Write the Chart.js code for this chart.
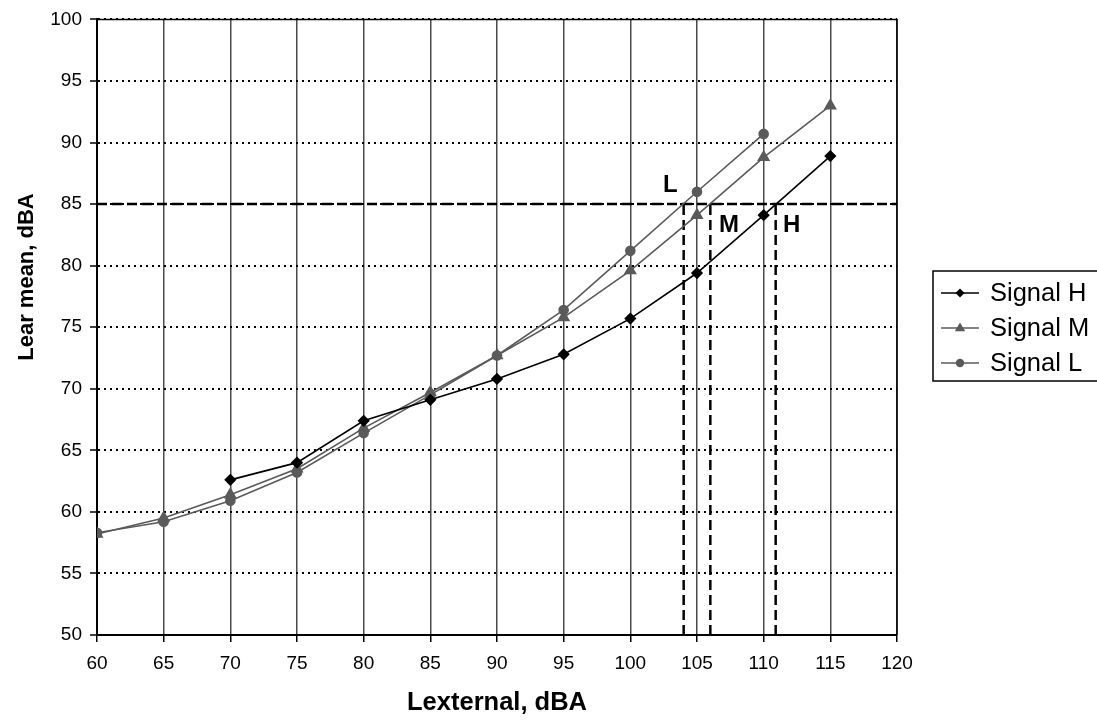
<!DOCTYPE html>
<html>
<head>
<meta charset="utf-8">
<script src="https://cdn.jsdelivr.net/npm/chart.js@4/dist/chart.umd.min.js"></script>
<style>
html,body{margin:0;padding:0;background:#fff;}
canvas{display:block;}
</style>
</head>
<body>
<canvas id="c" width="1097" height="721"></canvas>
<script>
// ---- Data ----
const xValues = [60, 65, 70, 75, 80, 85, 90, 95, 100, 105, 110, 115];
const signalH = [null, null, 62.6, 64.0, 67.4, 69.1, 70.8, 72.8, 75.7, 79.4, 84.1, 88.9];
const signalM = [58.2, 59.5, 61.4, 63.5, 66.8, 69.7, 72.7, 75.8, 79.6, 84.1, 88.8, 93.0];
const signalL = [58.3, 59.2, 60.9, 63.2, 66.4, 69.5, 72.7, 76.4, 81.2, 86.0, 90.7, null];
const seriesNames = ['Signal H', 'Signal M', 'Signal L'];
const criterionLevel = 85;
const crossingNames = ['L', 'M', 'H'];
const crossingX = [104.0, 106.0, 110.9];
const crossingLabelX = [103.0, 107.4, 112.1];
const crossingLabelY = [86.5, 83.3, 83.3];
const xTitle = 'Lexternal, dBA';
const yTitle = 'Lear mean, dBA';

const FONT = '"Liberation Sans", Arial, sans-serif';
const colH = '#000000', colM = '#5a5a5a', colL = '#5a5a5a';

function pts(arr){ return xValues.map((x,i)=>({x:x, y:arr[i]})); }

const datasets = [
  {label: seriesNames[0], data: pts(signalH), borderColor: colH, backgroundColor: colH,
   borderWidth: 1.6, pointStyle: 'rectRot', pointRadius: 5, pointHoverRadius: 5, spanGaps:false},
  {label: seriesNames[1], data: pts(signalM), borderColor: colM, backgroundColor: colM,
   borderWidth: 1.6, pointStyle: 'triangle', pointRadius: 6, pointHoverRadius: 6},
  {label: seriesNames[2], data: pts(signalL), borderColor: colL, backgroundColor: colL,
   borderWidth: 1.6, pointStyle: 'circle', pointRadius: 4.5, pointHoverRadius: 4.5},
  {label: 'criterion', data: [{x: xValues[0], y: criterionLevel}, {x: 120, y: criterionLevel}],
   borderColor: '#000', borderWidth: 2.5, borderDash: [10, 5], pointRadius: 0}
];
crossingX.forEach((cx, i) => {
  datasets.push({label: 'cross ' + crossingNames[i], data: [{x: cx, y: 50}, {x: cx, y: criterionLevel}],
    borderColor: '#000', borderWidth: 2.5, borderDash: [10, 5], pointRadius: 0});
});

const extras = {
  id: 'extras',
  beforeDatasetsDraw(chart) {
    const {ctx, chartArea: a} = chart;
    ctx.save();
    ctx.strokeStyle = '#000';
    ctx.lineWidth = 1.5;
    ctx.beginPath();
    ctx.moveTo(a.left, a.top); ctx.lineTo(a.right, a.top); ctx.lineTo(a.right, a.bottom);
    ctx.stroke();
    ctx.restore();
  },
  afterDraw(chart) {
    const {ctx} = chart;
    const xs = chart.scales.x, ys = chart.scales.y;
    ctx.save();
    ctx.fillStyle = '#000';
    ctx.font = 'bold 24px ' + FONT;
    ctx.textAlign = 'center'; ctx.textBaseline = 'middle';
    crossingNames.forEach((n, i) => {
      ctx.fillText(n, xs.getPixelForValue(crossingLabelX[i]), ys.getPixelForValue(crossingLabelY[i]));
    });
    ctx.save();
    ctx.translate(27, 277);
    ctx.rotate(-Math.PI / 2);
    ctx.font = 'bold 22px ' + FONT;
    ctx.fillText(yTitle, 0, 0);
    ctx.restore();
    // legend
    const bx = 933, by = 271, bw = 170, bh = 110;
    ctx.strokeStyle = '#000'; ctx.lineWidth = 1.5;
    ctx.strokeRect(bx, by, bw, bh);
    const rows = [293, 328, 363];
    ctx.font = '25.5px ' + FONT;
    ctx.textAlign = 'left'; ctx.textBaseline = 'middle';
    for (let i = 0; i < 3; i++) {
      const ds = chart.data.datasets[i];
      const y = rows[i];
      ctx.strokeStyle = ds.borderColor; ctx.fillStyle = ds.backgroundColor; ctx.lineWidth = 1.5;
      ctx.beginPath(); ctx.moveTo(941, y); ctx.lineTo(979, y); ctx.stroke();
      const cx = 960;
      ctx.beginPath();
      if (ds.pointStyle === 'rectRot') {
        const r = 4.5; ctx.moveTo(cx, y - r); ctx.lineTo(cx + r, y); ctx.lineTo(cx, y + r); ctx.lineTo(cx - r, y); ctx.closePath();
      } else if (ds.pointStyle === 'triangle') {
        const r = 5.5; ctx.moveTo(cx, y - r); ctx.lineTo(cx + r * 0.95, y + r * 0.6); ctx.lineTo(cx - r * 0.95, y + r * 0.6); ctx.closePath();
      } else {
        ctx.arc(cx, y, 4.2, 0, Math.PI * 2);
      }
      ctx.fill();
      ctx.fillStyle = '#000';
      ctx.fillText(ds.label, 990, y + 1);
    }
    ctx.restore();
  }
};

new Chart(document.getElementById('c'), {
  type: 'line',
  data: {datasets},
  plugins: [extras],
  options: {
    responsive: false,
    animation: false,
    events: [],
    layout: {padding: {left: 0, top: 18, right: 200, bottom: 0}},
    plugins: {legend: {display: false}, tooltip: {enabled: false}},
    scales: {
      x: {
        type: 'linear', min: 60, max: 120,
        afterFit(s) { s.height = 86; },
        ticks: {stepSize: 5, color: '#000', font: {family: FONT, size: 19}, padding: 10, maxRotation: 0},
        grid: {color: '#4a4a4a', lineWidth: 1.5, tickLength: 7, tickColor: '#000', tickWidth: 1.5},
        border: {color: '#000', width: 2},
        title: {display: true, text: xTitle, color: '#000', font: {family: FONT, size: 25.5, weight: 'bold'}, padding: {top: 0, bottom: 3}}
      },
      y: {
        min: 50, max: 100,
        afterFit(s) { s.width = 97; },
        ticks: {stepSize: 5, color: '#000', font: {family: FONT, size: 19}, padding: 8},
        grid: {color: '#000', lineWidth: 2, tickLength: 7, tickColor: '#000', tickWidth: 1.5, tickBorderDash: []},
        border: {color: '#000', width: 2, dash: [2, 4]}
      }
    }
  }
});
</script>
</body>
</html>
